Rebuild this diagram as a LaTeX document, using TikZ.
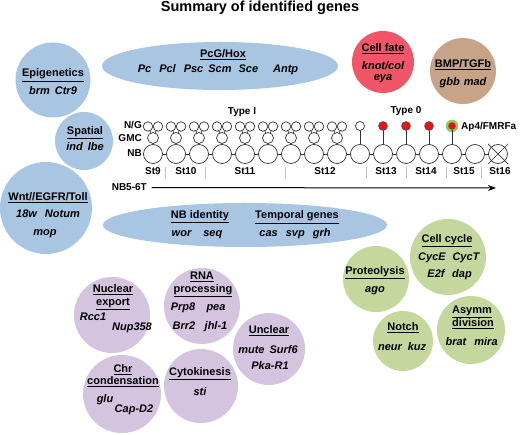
\documentclass[tikz,border=0pt]{standalone}
\usepackage{fontspec}
\setmainfont{Liberation Sans}
\usetikzlibrary{arrows.meta}

\definecolor{idblue}{HTML}{A8C5E2}
\definecolor{idpurp}{HTML}{D5C4DF}
\definecolor{idgreen}{HTML}{C4D89D}
\definecolor{idred}{HTML}{F15568}
\definecolor{idtan}{HTML}{C7A388}
\definecolor{dotred}{HTML}{E3141C}
\definecolor{glow}{HTML}{86CF63}

\tikzset{
	hd/.style={font=\fontsize{11}{13}\selectfont\bfseries, anchor=base, inner sep=0pt},
	gn/.style={font=\fontsize{11}{13}\selectfont\bfseries\itshape, anchor=base, inner sep=0pt},
	lb/.style={font=\fontsize{10}{12}\selectfont\bfseries, anchor=base, inner sep=0pt},
	nbc/.style={circle, draw=black!80, fill=white, line width=0.7pt, minimum size=19pt, inner sep=0pt},
	gmcc/.style={nbc, minimum size=11pt},
	ngc/.style={nbc, minimum size=9.5pt},
	redc/.style={circle, draw=black!70, fill=dotred, line width=0.5pt, minimum size=9pt, inner sep=0pt},
	stagetick/.style={draw=black!25, line width=0.8pt},
	lin/.style={draw=black!80, line width=0.7pt}
}

\begin{document}
\begin{tikzpicture}[x=1pt,y=-1pt,line join=round,line cap=round,>={Stealth[length=8pt,width=6pt]}]
	\useasboundingbox (0,0) rectangle (520,435);
	\node[font=\fontsize{14.5}{16}\selectfont\bfseries, anchor=base] (title) at (260,12) {Summary of identified genes};
	
	% blue groups
	\fill[idblue] (220,66) ellipse (118 and 24);
	\fill[idblue] (53,80) circle (37.5);
	\fill[idblue] (84,141) circle (29);
	\fill[idblue] (46,208) circle (46);
	\fill[idblue] (245,225) ellipse (142 and 22);
	\node[hd] (epi) at (53,77) {\underline{Epigenetics}};
	\node[gn] (epig) at (53,95) {brm\hspace{5pt}Ctr9};
	\node[hd] (pcg) at (223,58) {\underline{PcG/Hox}};
	\node[gn] (pcgg) at (218,73) {Pc\hspace{8pt}Pcl\hspace{8pt}Psc\hspace{5pt}Scm\hspace{7pt}Sce\hspace{15pt}Antp};
	\node[hd] (spa) at (85,135) {\underline{Spatial}};
	\node[gn] (spag) at (85,151) {ind\hspace{5pt}lbe};
	\node[hd] (wnt) at (48,201) {\underline{Wnt//EGFR/Toll}};
	\node[gn] (wntg) at (48,218) {18w\hspace{8pt}Notum};
	\node[gn] (wnth) at (45,236) {mop};
	\node[hd] (nbid) at (200,219) {\underline{NB identity}};
	\node[gn] (nbidg) at (197,237) {wor\hspace{12pt}seq};
	\node[hd] (temp) at (297,219) {\underline{Temporal genes}};
	\node[gn] (tempg) at (295,237) {cas\hspace{8pt}svp\hspace{8pt}grh};
	
	% cell fate, bmp
	\fill[idred] (383,62) circle (31);
	\fill[idtan] (463,71) circle (33);
	\node[hd] (fate) at (383,52) {\underline{Cell fate}};
	\node[gn] (fateg) at (383,69.5) {knot/col};
	\node[gn] (fateh) at (383,81) {eya};
	\node[hd] (bmp) at (463,68) {\underline{BMP/TGFb}};
	\node[gn] (bmpg) at (463,86) {gbb\hspace{4pt}mad};
	
	% lineage
	\foreach \i in {0,...,15}
		\node[nbc] (nb\i) at ({153+23*\i},154) {};
	\foreach \i [count=\j from 1] in {0,...,14}
		\draw[lin] (nb\i) -- (nb\j);
	\foreach \i in {0,...,8}{
		\node[gmcc] (gmc\i) at ({153+23*\i},138) {};
		\node[ngc] (nga\i) at ({148+23*\i},126.5) {};
		\node[ngc] (ngb\i) at ({158+23*\i},126.5) {};
		\draw[lin] (nb\i) -- (gmc\i) (gmc\i) -- (nga\i) (gmc\i) -- (ngb\i);}
	\node[ngc, minimum size=9pt] (top9) at (360,126) {};
	\foreach \i in {10,11,12}
		\node[redc] (top\i) at ({153+23*\i},126) {};
	\node[circle, fill=glow, minimum size=12.5pt, inner sep=0pt] (halo) at (452,126) {};
	\node[redc, draw=none, minimum size=7.5pt] (top13) at (452,126) {};
	\foreach \i in {9,...,13}
		\draw[lin] (nb\i) -- (top\i);
	\draw[lin] ([shift={(-10,-10)}]nb15.center) -- ([shift={(10,10)}]nb15.center);
	\draw[lin] ([shift={(-10,10)}]nb15.center) -- ([shift={(10,-10)}]nb15.center);
	\node[lb, anchor=base west] (ap4) at (461,130) {Ap4/FMRFa};
	\node[lb, anchor=base east] (lng) at (142,129) {N/G};
	\node[lb, anchor=base east] (lgmc) at (142,142) {GMC};
	\node[lb, anchor=base east] (lnb) at (142,157) {NB};
	\node[lb] (typei) at (242,114.5) {Type I};
	\node[lb] (typeo) at (406,114) {Type 0};
	\foreach \x/\s in {153/9,186/10,245/11,325/12,386/13,426/14,464/15,500/16}
		\node[lb] (st\s) at (\x,175) {St\s};
	\foreach \x in {165,205,285,366,406,446,481}
		\draw[stagetick] (\x,167) -- (\x,178);
	\node[lb, anchor=base east] (nbt) at (147,191) {NB5-6T};
	\coordinate (tip) at (496,188);
	\draw[->, line width=1pt] ([xshift=5pt]nbt.east) -- (tip);
	
	% purple groups
	\fill[idpurp] (112,315) circle (38);
	\fill[idpurp] (202,306) circle (38);
	\fill[idpurp] (269,349) circle (36);
	\fill[idpurp] (122,394) circle (39);
	\fill[idpurp] (201,386) circle (37);
	\node[hd] (nuc) at (113,293) {\underline{Nuclear}};
	\node[hd] (nucb) at (113,306) {\underline{export}};
	\node[gn] (rcc) at (93,321) {Rcc1};
	\node[gn] (nup) at (132,330.5) {Nup358};
	\node[hd] (rna) at (202,279.5) {\underline{RNA}};
	\node[hd] (rnab) at (203,292.5) {\underline{processing}};
	\node[gn] (prp) at (183,311) {Prp8};
	\node[gn] (pea) at (216,311) {pea};
	\node[gn] (brr) at (184,329.5) {Brr2};
	\node[gn] (jhl) at (216,329.5) {jhl-1};
	\node[hd] (uncl) at (269,334) {\underline{Unclear}};
	\node[gn] (unclg) at (268,354) {mute\hspace{5pt}Surf6};
	\node[gn] (unclh) at (270,369.5) {Pka-R1};
	\node[hd] (chr) at (123,373) {\underline{Chr}};
	\node[hd] (chrb) at (123,385) {\underline{condensation}};
	\node[gn] (glu) at (105,403) {glu};
	\node[gn] (cap) at (134,413) {Cap-D2};
	\node[hd] (cyto) at (200,376) {\underline{Cytokinesis}};
	\node[gn] (sti) at (200,396) {sti};
	
	% green groups
	\fill[idgreen] (448,257) circle (38);
	\fill[idgreen] (376,279) circle (33);
	\fill[idgreen] (403,341) circle (30);
	\fill[idgreen] (471,330) circle (34);
	\node[hd] (cyc) at (447,243) {\underline{Cell cycle}};
	\node[gn] (cyce) at (432,261) {CycE};
	\node[gn] (cyct) at (466,261) {CycT};
	\node[gn] (etf) at (436,278) {E2f};
	\node[gn] (dap) at (462,278) {dap};
	\node[hd] (prot) at (375,274.5) {\underline{Proteolysis}};
	\node[gn] (ago) at (375,292.5) {ago};
	\node[hd] (notch) at (403,331) {\underline{Notch}};
	\node[gn] (neur) at (390,350.5) {neur};
	\node[gn] (kuz) at (417,350.5) {kuz};
	\node[hd] (asy) at (472,314) {\underline{Asymm}};
	\node[hd] (asyb) at (473,327) {\underline{division}};
	\node[gn] (brat) at (456,346) {brat};
	\node[gn] (mira) at (486,346) {mira};
	%\draw[red] (0,0) rectangle (520,435);
\end{tikzpicture}
\end{document}
